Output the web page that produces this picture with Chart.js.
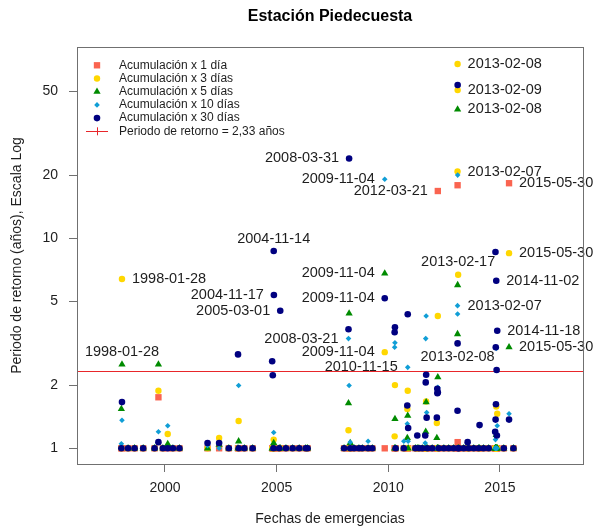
<!DOCTYPE html>
<html>
<head>
<meta charset="utf-8">
<style>
  html, body { margin: 0; padding: 0; background: #fff; }
</style>
</head>
<body>
<canvas id="grafico" width="594" height="531"></canvas>

<script src="https://cdn.jsdelivr.net/npm/chart.js"></script>

<script>
  // Fechas de las emergencias registradas
  const fechas = [
    '1998-01-18', '1998-01-28', '1998-05-08', '1998-08-22', '1999-01-10', '1999-07-15', '1999-09-16', '1999-11-28', '2000-02-15', '2000-05-10',
    '2000-08-25', '2001-11-28', '2002-06-05', '2002-11-10', '2003-04-10', '2003-04-20', '2003-07-22', '2003-12-05', '2004-10-20', '2004-10-30',
    '2004-11-10', '2004-11-14', '2004-11-17', '2005-02-12', '2005-03-01', '2005-06-02', '2005-09-20', '2006-01-05', '2006-04-22', '2006-05-22',
    '2008-01-08', '2008-03-21', '2008-03-31', '2008-04-18', '2008-06-20', '2008-09-08', '2008-11-02', '2009-02-05', '2009-04-15', '2009-11-04',
    '2010-04-15', '2010-04-20', '2010-05-01', '2010-09-12', '2010-11-08', '2010-11-15', '2010-11-22', '2011-03-20', '2011-04-20', '2011-05-16',
    '2011-07-10', '2011-08-28', '2011-09-05', '2011-09-12', '2011-09-20', '2011-10-02', '2011-12-20', '2012-03-05', '2012-03-12', '2012-03-14',
    '2012-03-21', '2012-04-05', '2012-06-28', '2012-09-15', '2012-12-05', '2013-02-07', '2013-02-08', '2013-02-09', '2013-02-17', '2013-03-01',
    '2013-05-18', '2013-07-22', '2013-08-08', '2013-10-30', '2014-01-18', '2014-02-02', '2014-04-08', '2014-07-01', '2014-10-15', '2014-10-20',
    '2014-10-22', '2014-10-25', '2014-10-28', '2014-11-02', '2014-11-08', '2014-11-12', '2014-11-18', '2015-03-05', '2015-05-30', '2015-08-10'
  ];

  // Periodo de retorno (años) de la lluvia acumulada antes de cada emergencia
  const acum1 = [
    1, 1, 1, 1, 1, 1, 1.75, 1, 1, 1,
    1, 1, 1, 1, 1, 1, 1, 1, 1, 1,
    1, 1, 1, 1, 1, 1, 1, 1, 1, 1,
    1, 1, 1, 1, 1, 1, 1, 1, 1, 1,
    1, 1, 1, 1, 1, 1, 1, 1, 1, 1,
    1, 1, 1, 1, 1, 1, 1, 1, 1, 1,
    16.8, 1, 1, 1, 1, 1, 17.9, 1.07, 1, 1,
    1, 1, 1, 1, 1, 1, 1, 1, 1, 1,
    1, 1, 1, 1, 1, 1, 1, 1, 18.3, 1
  ];
  const acum3 = [
    1, 6.40, 1, 1, 1, 1, 1.88, 1, 1.17, 1,
    1, 1, 1.12, 1, 1, 1.35, 1, 1, 1, 1,
    1, 1.10, 1, 1, 1, 1, 1, 1, 1, 1,
    1, 1.22, 1, 1, 1, 1, 1, 1, 1, 2.87,
    1.14, 2.00, 1, 1, 1.54, 1.88, 1, 1, 1, 1,
    1, 1, 1, 1.67, 1, 1, 1, 1.32, 1, 1,
    4.27, 1, 1, 1, 1, 20.8, 67.6, 50.8, 6.71, 1,
    1, 1, 1, 1, 1, 1, 1, 1, 1, 1,
    1, 1, 1, 1.58, 1, 1, 1.46, 1, 8.50, 1
  ];
  const acum5 = [
    1.54, 2.51, 1, 1, 1, 1, 2.51, 1, 1.05, 1,
    1, 1, 1.04, 1, 1, 1.08, 1, 1, 1, 1,
    1, 1.06, 1, 1, 1, 1, 1, 1, 1, 1,
    1, 1.64, 4.39, 1.06, 1, 1, 1, 1, 1, 6.81,
    1, 1.38, 1, 1, 1.12, 1.43, 1, 1, 1, 1,
    1, 1, 1.20, 1.66, 1, 1, 1, 1.12, 1, 1,
    2.18, 1, 1, 1, 1, 3.50, 41.1, 5.99, 1, 1,
    1, 1, 1, 1, 1, 1, 1, 1, 1, 1,
    1, 1, 1, 1.16, 1, 1, 1, 1, 3.03, 1
  ];
  const acum10 = [
    1.05, 1.36, 1, 1, 1, 1, 1.20, 1, 1.28, 1,
    1, 1.03, 1, 1, 1, 1.99, 1, 1, 1, 1,
    1, 1.19, 1, 1, 1, 1, 1, 1, 1, 1,
    1, 3.33, 1.99, 1.07, 1, 1, 1, 1.08, 1, 19.1,
    3.03, 3.18, 1, 1.08, 1.31, 2.43, 1.08, 1, 1, 1,
    1, 1.06, 3.33, 4.27, 1.48, 1, 1, 1, 1, 1,
    1.95, 1, 1, 1, 1, 4.78, 4.36, 20.0, 1, 1,
    1, 1, 1, 1, 1, 1, 1, 1, 1, 1.10,
    1, 1, 1, 2.99, 1, 1, 1.28, 1, 1.46, 1
  ];
  const acum30 = [
    1, 1.66, 1, 1, 1, 1, 1.07, 1, 1, 1,
    1, 1.06, 1.06, 1, 2.80, 1, 1, 1, 2.60, 2.23,
    1, 8.70, 5.37, 1, 4.52, 1, 1, 1, 1, 1,
    1, 3.69, 24.0, 1, 1, 1, 1, 1, 1, 5.18,
    3.57, 3.77, 1, 1, 1.60, 4.35, 1.25, 1, 1.15, 1,
    1, 1.15, 2.06, 2.24, 1.40, 1, 1, 1.40, 1.92, 1.83,
    1.85, 1, 1, 1, 1, 1.51, 3.16, 53.7, 1, 1,
    1, 1.07, 1, 1, 1, 1.29, 1, 1, 1.20, 8.61,
    1.37, 3.03, 1.62, 6.28, 2.36, 1.15, 3.63, 1, 1.37, 1
  ];

  const periodoRetorno = 2.33;
  const ticksAnios = [2000, 2005, 2010, 2015];
  const ticksPeriodo = [1, 2, 5, 10, 20, 50];

  // Fechas rotuladas: [fecha, serie (0 = 1 día ... 4 = 30 días), posición del texto]
  const etiquetas = [
    ['2013-02-08', 1, 'der'], ['2013-02-09', 1, 'der'], ['2013-02-08', 2, 'der'],
    ['2008-03-31', 4, 'izq'], ['2009-11-04', 3, 'izq'], ['2012-03-21', 0, 'izq'],
    ['2013-02-07', 1, 'der'], ['2015-05-30', 0, 'der'], ['2004-11-14', 4, 'arriba'],
    ['1998-01-28', 1, 'der'], ['2004-11-17', 4, 'izq'], ['2005-03-01', 4, 'izq'],
    ['2009-11-04', 2, 'izq'], ['2009-11-04', 4, 'izq'], ['2013-02-17', 1, 'arriba'],
    ['2015-05-30', 1, 'der'], ['2014-11-02', 4, 'der'], ['2013-02-07', 3, 'der'],
    ['2008-03-21', 3, 'izq'], ['2014-11-18', 4, 'der'], ['2015-05-30', 2, 'der'],
    ['2009-11-04', 1, 'izq'], ['2010-11-15', 3, 'izq'], ['2013-02-08', 4, 'abajo'],
    ['1998-01-28', 2, 'arriba']
  ];

  const fuente = '"Liberation Sans", Arial, Helvetica, sans-serif';
  const colorTexto = '#1e1e1e';
  const colorEje = '#707070';
  const colorUmbral = '#e8262a';

  const series = [
    { nombre: 'Acumulación x 1 día',   valores: acum1,  color: '#fa6450', estilo: 'rect',     radio: 4.5 },
    { nombre: 'Acumulación x 3 días',  valores: acum3,  color: '#ffd700', estilo: 'circle',   radio: 3.2 },
    { nombre: 'Acumulación x 5 días',  valores: acum5,  color: '#008b00', estilo: 'triangle', radio: 4.2 },
    { nombre: 'Acumulación x 10 días', valores: acum10, color: '#109ed6', estilo: 'rectRot',  radio: 2.8 },
    { nombre: 'Acumulación x 30 días', valores: acum30, color: '#000080', estilo: 'circle',   radio: 3.3 }
  ];

  // Fecha ISO -> año decimal
  function anioDecimal(fecha) {
    const [a, m, d] = fecha.split('-').map(Number);
    const ini = Date.UTC(a, 0, 1);
    const fin = Date.UTC(a + 1, 0, 1);
    return a + (Date.UTC(a, m - 1, d) - ini) / (fin - ini);
  }

  // Marcas de la leyenda con la misma geometría que usa Chart.js
  function dibujarMarca(ctx, estilo, x, y, r, color) {
    ctx.fillStyle = color;
    ctx.beginPath();
    if (estilo === 'circle') {
      ctx.arc(x, y, r, 0, Math.PI * 2);
    } else if (estilo === 'rect') {
      const s = r * Math.SQRT1_2;
      ctx.rect(x - s, y - s, 2 * s, 2 * s);
    } else if (estilo === 'triangle') {
      ctx.moveTo(x, y - r);
      ctx.lineTo(x + r * Math.sin(2 * Math.PI / 3), y - r * Math.cos(2 * Math.PI / 3));
      ctx.lineTo(x + r * Math.sin(4 * Math.PI / 3), y - r * Math.cos(4 * Math.PI / 3));
    } else if (estilo === 'rectRot') {
      ctx.moveTo(x - r, y);
      ctx.lineTo(x, y - r);
      ctx.lineTo(x + r, y);
      ctx.lineTo(x, y + r);
    }
    ctx.closePath();
    ctx.fill();
  }

  const decoracion = {
    id: 'decoracion',
    beforeDatasetsDraw(chart) {
      // línea del periodo de retorno
      const { ctx, chartArea: a, scales: { y } } = chart;
      const py = Math.round(y.getPixelForValue(periodoRetorno)) + 0.5;
      ctx.save();
      ctx.strokeStyle = colorUmbral;
      ctx.lineWidth = 1;
      ctx.beginPath();
      ctx.moveTo(a.left, py);
      ctx.lineTo(a.right, py);
      ctx.stroke();
      ctx.restore();
    },
    afterDatasetsDraw(chart) {
      // rótulos de fechas junto a los puntos
      const { ctx, scales: { x, y } } = chart;
      ctx.save();
      ctx.font = '14.5px ' + fuente;
      ctx.fillStyle = colorTexto;
      etiquetas.forEach(([fecha, s, pos]) => {
        const k = fechas.indexOf(fecha);
        const px = x.getPixelForValue(anioDecimal(fecha));
        const py = y.getPixelForValue(series[s].valores[k]);
        ctx.textBaseline = 'middle';
        if (pos === 'der') {
          ctx.textAlign = 'left';
          ctx.fillText(fecha, px + 10, py);
        } else if (pos === 'izq') {
          ctx.textAlign = 'right';
          ctx.fillText(fecha, px - 10, py);
        } else if (pos === 'arriba') {
          ctx.textAlign = 'center';
          ctx.fillText(fecha, px, py - 12.5);
        } else {
          ctx.textAlign = 'center';
          ctx.fillText(fecha, px, py + 13.5);
        }
      });
      ctx.restore();
    },
    afterDraw(chart) {
      const { ctx, chartArea: a } = chart;
      ctx.save();

      // marco del gráfico
      ctx.strokeStyle = colorEje;
      ctx.lineWidth = 1;
      ctx.strokeRect(Math.round(a.left) + 0.5, Math.round(a.top) + 0.5,
                     Math.round(a.width), Math.round(a.height));

      // título
      ctx.fillStyle = '#000';
      ctx.font = 'bold 16px ' + fuente;
      ctx.textAlign = 'center';
      ctx.textBaseline = 'middle';
      ctx.fillText('Estación Piedecuesta', (a.left + a.right) / 2, 17);

      // leyenda
      const xm = a.left + 20;
      const xt = a.left + 42;
      let yl = a.top + 18.3;
      ctx.font = '12px ' + fuente;
      ctx.textAlign = 'left';
      series.forEach(s => {
        dibujarMarca(ctx, s.estilo, xm, yl, s.radio, s.color);
        ctx.fillStyle = colorTexto;
        ctx.fillText(s.nombre, xt, yl);
        yl += 13.2;
      });
      ctx.strokeStyle = colorUmbral;
      ctx.beginPath();
      ctx.moveTo(xm - 11, Math.round(yl) + 0.5);
      ctx.lineTo(xm + 11, Math.round(yl) + 0.5);
      ctx.moveTo(Math.round(xm) + 0.5, yl - 4);
      ctx.lineTo(Math.round(xm) + 0.5, yl + 4);
      ctx.stroke();
      ctx.fillStyle = colorTexto;
      ctx.fillText('Periodo de retorno = ' + String(periodoRetorno).replace('.', ',') + ' años', xt, yl);

      ctx.restore();
    }
  };

  const datasets = series.map((s, i) => ({
    label: s.nombre,
    data: fechas.map((f, k) => ({ x: anioDecimal(f), y: s.valores[k] })),
    pointStyle: s.estilo,
    pointRadius: s.radio,
    backgroundColor: s.color,
    borderWidth: 0,
    showLine: false,
    order: series.length - i
  }));

  const grafico = new Chart(document.getElementById('grafico'), {
    type: 'scatter',
    data: { datasets: datasets },
    options: {
      responsive: false,
      animation: false,
      events: [],
      layout: { padding: { top: 47, right: 11, bottom: 0, left: 0 } },
      plugins: {
        legend: { display: false },
        tooltip: { enabled: false }
      },
      scales: {
        x: {
          type: 'linear',
          min: 1996.06,
          max: 2018.72,
          afterBuildTicks: scale => { scale.ticks = ticksAnios.map(v => ({ value: v })); },
          afterFit: scale => { scale.height = 67; },
          grid: { drawOnChartArea: false, drawTicks: true, tickLength: 8, color: colorEje },
          border: { display: false },
          ticks: {
            callback: v => String(v),
            font: { size: 14, family: fuente },
            color: colorTexto,
            padding: 7.5,
            maxRotation: 0
          },
          title: {
            display: true,
            text: 'Fechas de emergencias',
            font: { size: 14, family: fuente },
            color: colorTexto,
            padding: { top: 0, bottom: 3.6 }
          }
        },
        y: {
          type: 'logarithmic',
          min: 0.842,
          max: 81.5,
          afterBuildTicks: scale => { scale.ticks = ticksPeriodo.map(v => ({ value: v })); },
          afterFit: scale => { scale.width = 77; },
          grid: { drawOnChartArea: false, drawTicks: true, tickLength: 8, color: colorEje },
          border: { display: false },
          ticks: {
            callback: v => String(v),
            font: { size: 14, family: fuente },
            color: colorTexto,
            padding: 11
          },
          title: {
            display: true,
            text: 'Periodo de retorno (años), Escala Log',
            font: { size: 14, family: fuente },
            color: colorTexto,
            padding: { top: 8.6, bottom: 0 }
          }
        }
      }
    },
    plugins: [decoracion]
  });
</script>
</body>
</html>
